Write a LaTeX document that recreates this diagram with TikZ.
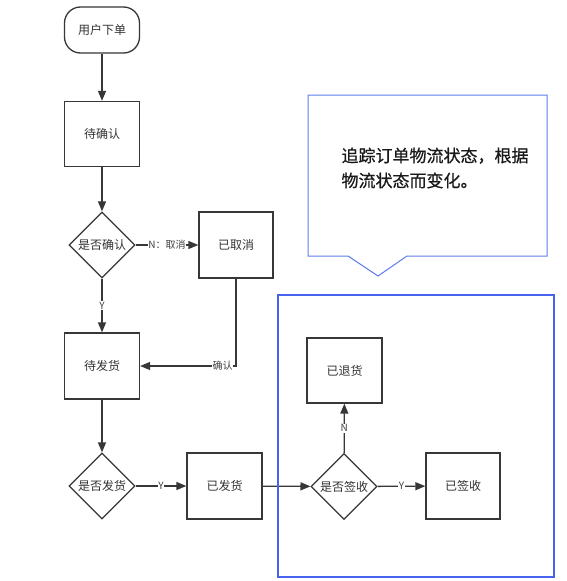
\documentclass[tikz,border=0pt]{standalone}
\usepackage{fontspec}
\setmainfont{Noto Sans CJK SC}
\newfontfamily\callfont[FakeBold=0.6]{Noto Sans CJK SC}
\usetikzlibrary{arrows.meta,shapes.geometric}
\definecolor{ln}{RGB}{55,55,55}
\definecolor{bluebox}{RGB}{70,100,238}
\definecolor{bluecall}{RGB}{95,125,240}
\tikzset{
  box/.style={draw=ln,line width=1.3pt,minimum width=75pt,minimum height=66pt,inner sep=0pt,font=\fontsize{12}{14}\selectfont,text=black!80},
  startbox/.style={box,rounded corners=16pt,minimum height=46pt},
  decision/.style={draw=ln,line width=1.3pt,diamond,minimum width=66pt,minimum height=66pt,inner sep=0pt,font=\fontsize{12}{14}\selectfont,text=black!80},
  conn/.style={draw=ln,line width=1.3pt,-{Triangle[length=10pt,width=8pt]}},
  lbl/.style={fill=white,inner sep=0.8pt,font=\fontsize{10}{12}\selectfont,text=black!75}
}
\begin{document}
\begin{tikzpicture}[x=1pt,y=-1pt]
\useasboundingbox (0,0) rectangle (567,581);
\fill[white] (0,0) rectangle (567,581);
% callout
\draw[bluecall,line width=1pt,fill=white] (308,95) -- (547,95) -- (547,256) -- (407,256) -- (378,276) -- (348,256) -- (308,256) -- cycle;
\node[anchor=west,align=left,font=\callfont\fontsize{17}{25}\selectfont,text=black!90] (note) at (338,168) {追踪订单物流状态，根据\\物流状态而变化。};
% nodes
\node[startbox] (start) at (102,30) {用户下单};
\node[box,minimum height=65pt] (wait1) at (102,134) {待确认};
\node[decision] (d1) at (102,245) {是否确认};
\node[box,minimum width=74pt] (cancel) at (236,245) {已取消};
\node[box] (wait2) at (102,366) {待发货};
\node[decision] (d2) at (102,486) {是否发货};
\node[box] (shipped) at (224.5,486) {已发货};
\node[decision] (d3) at (344,486.5) {是否签收};
\node[box,minimum height=65pt] (returned) at (344.5,370.5) {已退货};
\node[box,minimum width=74pt] (signed) at (463,486) {已签收};
% connectors
\draw[conn] (start) -- (wait1);
\draw[conn] (wait1) -- (d1);
\draw[conn] (d1) -- node[lbl] {N：取消} (cancel);
\draw[conn] (d1) -- node[lbl] {Y} (wait2);
\draw[conn] (cancel.south) |- node[lbl,pos=0.57] {确认} (wait2.east);
\draw[conn] (wait2) -- (d2);
\draw[conn] (d2) -- node[lbl] {Y} (shipped);
\draw[conn] (shipped) -- (d3);
\draw[conn] (d3) -- node[lbl] {N} (returned);
\draw[conn] (d3) -- node[lbl] {Y} (signed);
% blue frame
\draw[bluebox,line width=2.6pt] (278,295) rectangle (554,577);
\end{tikzpicture}
\end{document}
